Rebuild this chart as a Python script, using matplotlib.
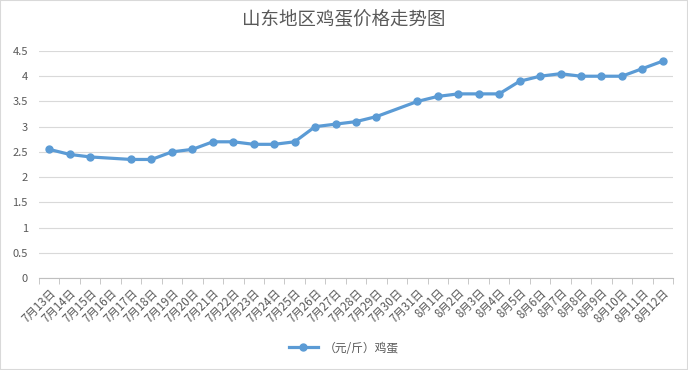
import matplotlib.pyplot as plt
import numpy as np
from matplotlib.patches import Rectangle

plt.rcParams['font.family'] = ['Noto Sans CJK SC', 'DejaVu Sans']

# dates 7/13 .. 8/12, None where the source has no value
dates = [f'7月{d}日' for d in range(13, 32)] + [f'8月{d}日' for d in range(1, 13)]
prices = [2.55, 2.45, 2.4, None, 2.35, 2.35, 2.5, 2.55, 2.7, 2.7,
          2.65, 2.65, 2.7, 3.0, 3.05, 3.1, 3.2, None, 3.5,
          3.6, 3.65, 3.65, 3.65, 3.9, 4.0, 4.05, 4.0, 4.0, 4.0, 4.15, 4.3]
series_name = '（元/斤）鸡蛋'
title = '山东地区鸡蛋价格走势图'

gray = '#595959'
blue = '#5B9BD5'

fig = plt.figure(figsize=(6.88, 3.7), dpi=100)
ax = fig.add_axes([39 / 688, 1 - 278 / 370, (673 - 39) / 688, (278 - 51) / 370])

xs = [i for i, v in enumerate(prices) if v is not None]
ys = [v for v in prices if v is not None]
ax.plot(xs, ys, color=blue, lw=2.3, marker='o', ms=5, label=series_name)

ax.set_xlim(-0.5, len(dates) - 0.5)
ax.set_ylim(0, 4.5)
ax.set_yticks(np.arange(0, 4.51, 0.5))
ax.set_yticklabels(['0', '0.5', '1', '1.5', '2', '2.5', '3', '3.5', '4', '4.5'])
ax.set_xticks(range(len(dates)))
ax.set_xticklabels(dates, rotation=45, ha='right', va='top', rotation_mode='anchor')
ax.set_xticks(np.arange(-0.5, len(dates), 1), minor=True)
ax.tick_params(axis='x', which='major', length=0, labelsize=8.3, colors=gray, pad=6)
ax.tick_params(axis='x', which='minor', length=4, color='#bfbfbf')
ax.tick_params(axis='y', length=0, labelsize=8, colors=gray, pad=8)

ax.grid(axis='y', color='#d9d9d9', lw=0.8)
ax.set_axisbelow(True)
for s in ['top', 'right', 'left']:
    ax.spines[s].set_visible(False)
ax.spines['bottom'].set_color('#bfbfbf')

fig.text(0.5, 1 - 21 / 370, title, ha='center', va='center', fontsize=13.3, color=gray)

leg = fig.legend(loc='center', bbox_to_anchor=(0.5, 1 - 348 / 370), frameon=False,
                 fontsize=8.5, handlelength=2.5, handletextpad=0.5)
for t in leg.get_texts():
    t.set_color(gray)

fig.patches.append(Rectangle((0, 0), 1, 1, transform=fig.transFigure, fill=False,
                             edgecolor='#d9d9d9', lw=1.5))

fig.savefig('out.png', dpi=100)
